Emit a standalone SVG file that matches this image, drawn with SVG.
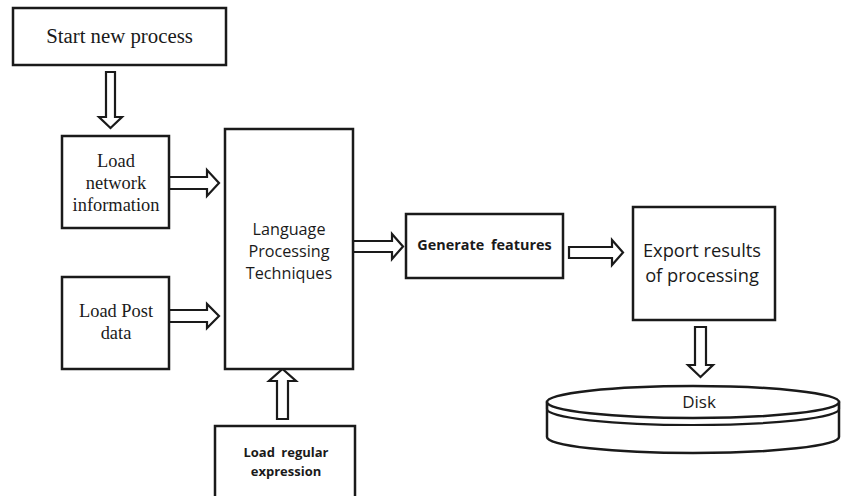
<svg xmlns="http://www.w3.org/2000/svg" width="844" height="496" viewBox="0 0 844 496">
  <style>
    .box { fill: #fff; stroke: #1a1a1a; stroke-width: 2.5; }
    .arrow { fill: #fff; stroke: #1a1a1a; stroke-width: 2.2; stroke-linejoin: miter; }
    .serif { font-family: "Liberation Serif", "Times New Roman", serif; fill: #1a1a1a; text-anchor: middle; }
    .sans { font-family: "Open Sans", "Noto Sans", sans-serif; fill: #1a1a1a; text-anchor: middle; }
    .bold { font-weight: bold; word-spacing: 3px; }
  </style>

  <rect width="844" height="496" fill="#fff"/>

  <!-- block-arrow connectors -->
  <g id="connectors">
    <!-- start -> load network (down) -->
    <polygon class="arrow" points="106,72 115,72 115,117 122,117 110.5,128 99,117 106,117"/>
    <!-- load network -> language processing -->
    <polygon class="arrow" points="169,177 207,177 207,170 219,183 207,196 207,189 169,189"/>
    <!-- load post -> language processing -->
    <polygon class="arrow" points="169,310 207,310 207,304 219,316 207,328 207,322 169,322"/>
    <!-- load regular expression -> language processing (up) -->
    <polygon class="arrow" points="277,419 288,419 288,381 296,381 282.5,369 269,381 277,381"/>
    <!-- language processing -> generate features -->
    <polygon class="arrow" points="353,241 392,241 392,234 403,246.5 392,259 392,252 353,252"/>
    <!-- generate features -> export -->
    <polygon class="arrow" points="569,247 612,247 612,240 623,252.5 612,265 612,258 569,258"/>
    <!-- export -> disk (down) -->
    <polygon class="arrow" points="695,327 706,327 706,365 713,365 700.5,377 688,365 695,365"/>
  </g>

  <g id="start">
    <rect class="box" x="13" y="8" width="213" height="57"/>
    <text class="serif" x="119.5" y="43" font-size="20.8">Start new process</text>
  </g>

  <g id="load-network">
    <rect class="box" x="62" y="136" width="107" height="92"/>
    <text class="serif" x="116" y="167" font-size="18.4">Load</text>
    <text class="serif" x="116" y="189" font-size="18.4">network</text>
    <text class="serif" x="116" y="211" font-size="18.4">information</text>
  </g>

  <g id="load-post">
    <rect class="box" x="62" y="277" width="107" height="92"/>
    <text class="serif" x="116" y="317" font-size="18.4">Load Post</text>
    <text class="serif" x="116" y="339" font-size="18.4">data</text>
  </g>

  <g id="language-processing">
    <rect class="box" x="225" y="129" width="128" height="240"/>
    <text class="sans" x="289" y="235" font-size="16.2">Language</text>
    <text class="sans" x="289" y="257" font-size="16.2">Processing</text>
    <text class="sans" x="289" y="279" font-size="16.2">Techniques</text>
  </g>

  <g id="load-regex">
    <rect class="box" x="215" y="426" width="140" height="80"/>
    <text class="sans bold" x="286" y="457" font-size="13">Load regular</text>
    <text class="sans bold" x="286" y="476" font-size="13">expression</text>
  </g>

  <g id="generate-features">
    <rect class="box" x="406" y="214" width="157" height="64"/>
    <text class="sans bold" x="484.5" y="250" font-size="14.4">Generate features</text>
  </g>

  <g id="export">
    <rect class="box" x="633" y="207" width="142" height="113"/>
    <text class="sans" x="702" y="257" font-size="18.3">Export results</text>
    <text class="sans" x="702" y="282" font-size="18.3">of processing</text>
  </g>

  <g id="disk">
    <!-- body: sides and bottom rim -->
    <path class="box" d="M547,402 L547,437 A146,16 0 0 0 839,437 L839,402 Z"/>
    <!-- thin platter edge under the top face -->
    <path d="M547,402 L547,409 A146,16 0 0 0 839,409 L839,402" fill="none" stroke="#1a1a1a" stroke-width="2.2"/>
    <!-- top face -->
    <ellipse class="box" cx="693" cy="402" rx="146" ry="16"/>
    <text class="sans" x="699" y="408" font-size="17">Disk</text>
  </g>
</svg>
